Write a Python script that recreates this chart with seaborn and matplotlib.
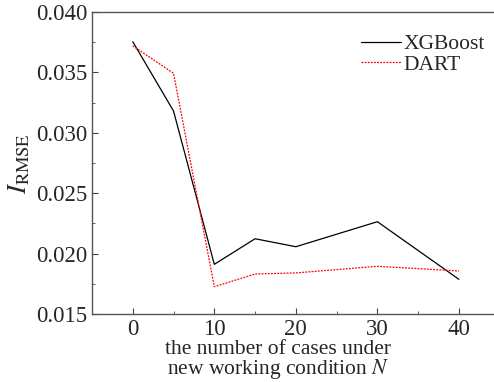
import numpy as np
import pandas as pd
import matplotlib
matplotlib.use("Agg")
import matplotlib.pyplot as plt
from matplotlib.ticker import MultipleLocator
import seaborn as sns

n_cases = [0, 5, 10, 15, 20, 30, 40]
xgboost = [0.03754, 0.0318, 0.01911, 0.02123, 0.02057, 0.02264, 0.01787]
dart = [0.03719, 0.03493, 0.01726, 0.01831, 0.0184, 0.01895, 0.01856]

df = pd.DataFrame({"N": n_cases * 2,
                   "I": xgboost + dart,
                   "model": ["XGBoost"] * len(n_cases) + ["DART"] * len(n_cases)})

sns.set_style("ticks")
plt.rcParams["font.family"] = ["Liberation Serif", "DejaVu Serif"]
plt.rcParams["mathtext.fontset"] = "stix"

fig = plt.figure(figsize=(4.94, 3.82), dpi=100)
ax = fig.add_axes([92 / 494, 1 - 314 / 382, 1 - 92 / 494, (314 - 12) / 382])

sns.lineplot(data=df, x="N", y="I", hue="model", style="model",
             palette={"XGBoost": "black", "DART": "red"},
             dashes={"XGBoost": "", "DART": (1.5, 1)},
             linewidth=0.9, ax=ax)

ax.set_xlim(-5, 44.3)
ax.set_ylim(0.015, 0.040)
ax.xaxis.set_major_locator(MultipleLocator(10))
ax.xaxis.set_minor_locator(MultipleLocator(5))
ax.yaxis.set_major_locator(MultipleLocator(0.005))
ax.yaxis.set_minor_locator(MultipleLocator(0.0025))
ax.set_yticklabels([f"{v:.3f}" for v in ax.get_yticks()])
ax.tick_params(which="both", direction="in", labelsize=16.5, color="#444444")
ax.tick_params(which="major", length=4)
ax.tick_params(which="minor", length=2.5)
for s in ["left", "bottom", "top"]:
    ax.spines[s].set_color("#555555")
    ax.spines[s].set_linewidth(1.0)
ax.spines["right"].set_visible(False)

ax.set_xlabel("the number of cases under\nnew working condition $N$", fontsize=15.5, linespacing=0.9)
ax.xaxis.set_label_coords((278 - 92) / 402, -0.085, transform=ax.transAxes)
ax.xaxis.label.set_verticalalignment("top")
ax.set_ylabel(r"$I_{\mathrm{RMSE}}$", fontsize=19)
ax.yaxis.set_label_coords(-0.15, 0.5)

leg = ax.legend(frameon=False, fontsize=15.5, loc="upper right",
                bbox_to_anchor=(1.025, 0.99), handlelength=1.85,
                handletextpad=0.1, labelspacing=0.02)

fig.savefig("out.png", dpi=100)
